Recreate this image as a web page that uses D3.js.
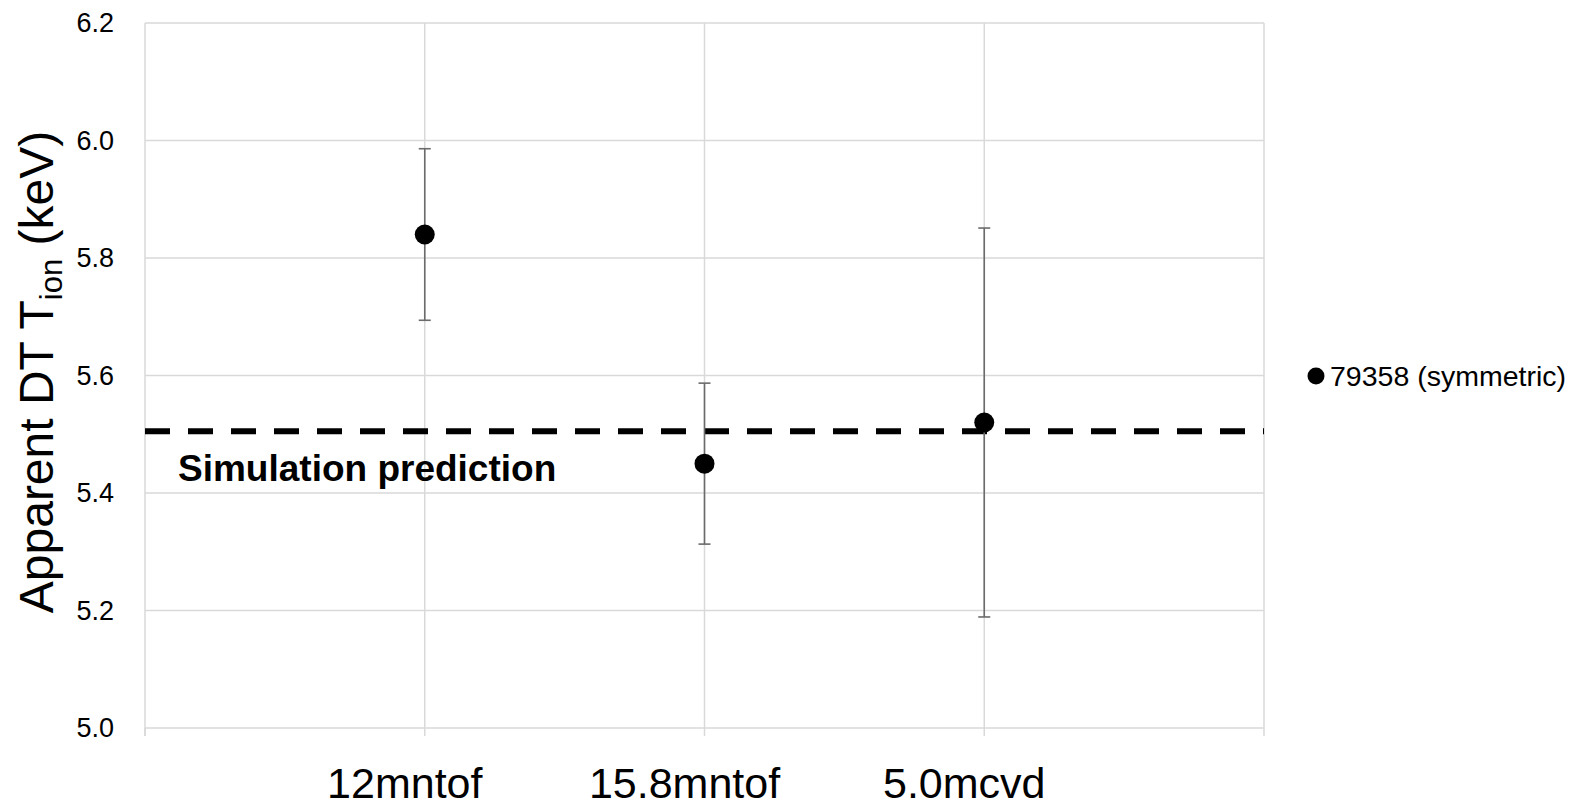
<!DOCTYPE html>
<html>
<head>
<meta charset="utf-8">
<script src="https://cdn.jsdelivr.net/npm/d3@7"></script>
<style>
  html, body { margin: 0; padding: 0; background: #fff; }
  svg { display: block; font-family: "Liberation Sans", Arial, sans-serif; }
</style>
</head>
<body>
<svg id="chart" width="1581" height="808"></svg>
<script>
// Measured apparent DT ion temperature per detector
const categories = ["12mntof", "15.8mntof", "5.0mcvd"];
const tionValues = [5.84, 5.45, 5.52];
const tionErrors = [0.146, 0.137, 0.331];
const yTicks = [5.0, 5.2, 5.4, 5.6, 5.8, 6.0, 6.2];
const simulationPrediction = 5.505;
const seriesName = "79358 (symmetric)";

const svg = d3.select("#chart");
const plot = { left: 145, right: 1264, top: 23, bottom: 728 };

const x = d3.scaleLinear().domain([0, categories.length + 1]).range([plot.left, plot.right]);
const y = d3.scaleLinear().domain([5.0, 6.2]).range([plot.bottom, plot.top]);

const gridColor = "#d9d9d9";

// horizontal gridlines
svg.append("g").selectAll("line").data(yTicks).join("line")
  .attr("x1", plot.left).attr("x2", plot.right)
  .attr("y1", d => y(d)).attr("y2", d => y(d))
  .attr("stroke", gridColor).attr("stroke-width", 1.5);

// vertical gridlines at each category and the right edge
const xGrid = d3.range(1, categories.length + 2);
svg.append("g").selectAll("line").data(xGrid).join("line")
  .attr("x1", d => x(d)).attr("x2", d => x(d))
  .attr("y1", plot.top).attr("y2", plot.bottom)
  .attr("stroke", gridColor).attr("stroke-width", 1.5);

// left axis line
svg.append("line")
  .attr("x1", x(0)).attr("x2", x(0)).attr("y1", plot.top).attr("y2", plot.bottom + 8)
  .attr("stroke", gridColor).attr("stroke-width", 1.5);

// bottom tick marks
svg.append("g").selectAll("line").data(d3.range(0, categories.length + 2)).join("line")
  .attr("x1", d => x(d)).attr("x2", d => x(d))
  .attr("y1", plot.bottom).attr("y2", plot.bottom + 8)
  .attr("stroke", gridColor).attr("stroke-width", 1.5);

// y tick labels
svg.append("g").selectAll("text").data(yTicks).join("text")
  .attr("x", 114).attr("y", d => y(d) + 9)
  .attr("text-anchor", "end")
  .attr("font-size", 27).attr("fill", "#000")
  .text(d => d.toFixed(1));

// category labels
svg.append("g").selectAll("text").data(categories).join("text")
  .attr("x", (d, i) => x(i + 1) - 20).attr("y", 798)
  .attr("text-anchor", "middle")
  .attr("font-size", 43).attr("fill", "#000")
  .text(d => d);

// y axis title with subscript
const title = svg.append("text")
  .attr("transform", `translate(53, ${(131 + 613) / 2}) rotate(-90)`)
  .attr("text-anchor", "middle")
  .attr("font-size", 48).attr("fill", "#000");
title.append("tspan").text("Apparent DT T");
title.append("tspan").attr("font-size", 31).attr("dy", 9).text("ion");
title.append("tspan").attr("dy", -9).text(" (keV)");

// simulation prediction dashed line
svg.append("line")
  .attr("x1", x(0)).attr("x2", x(categories.length + 1))
  .attr("y1", y(simulationPrediction)).attr("y2", y(simulationPrediction))
  .attr("stroke", "#000").attr("stroke-width", 6)
  .attr("stroke-dasharray", "25,18");

svg.append("text")
  .attr("x", 178).attr("y", 481)
  .attr("font-size", 37).attr("font-weight", "bold").attr("fill", "#000")
  .text("Simulation prediction");

// error bars
const eb = svg.append("g").attr("stroke", "#6b6b6b").attr("stroke-width", 1.6);
tionValues.forEach((v, i) => {
  const cx = x(i + 1);
  const e = tionErrors[i];
  eb.append("line").attr("x1", cx).attr("x2", cx)
    .attr("y1", y(v + e)).attr("y2", y(v - e));
  eb.append("line").attr("x1", cx - 6).attr("x2", cx + 6)
    .attr("y1", y(v + e)).attr("y2", y(v + e));
  eb.append("line").attr("x1", cx - 6).attr("x2", cx + 6)
    .attr("y1", y(v - e)).attr("y2", y(v - e));
});

// data points
svg.append("g").selectAll("circle").data(tionValues).join("circle")
  .attr("cx", (d, i) => x(i + 1)).attr("cy", d => y(d))
  .attr("r", 10).attr("fill", "#000");

// legend
const legend = svg.append("g").attr("transform", "translate(1316, 376)");
legend.append("circle").attr("r", 8.5).attr("fill", "#000");
legend.append("text").attr("x", 14).attr("y", 10)
  .attr("font-size", 28.5).attr("fill", "#000")
  .text(seriesName);
</script>
</body>
</html>
